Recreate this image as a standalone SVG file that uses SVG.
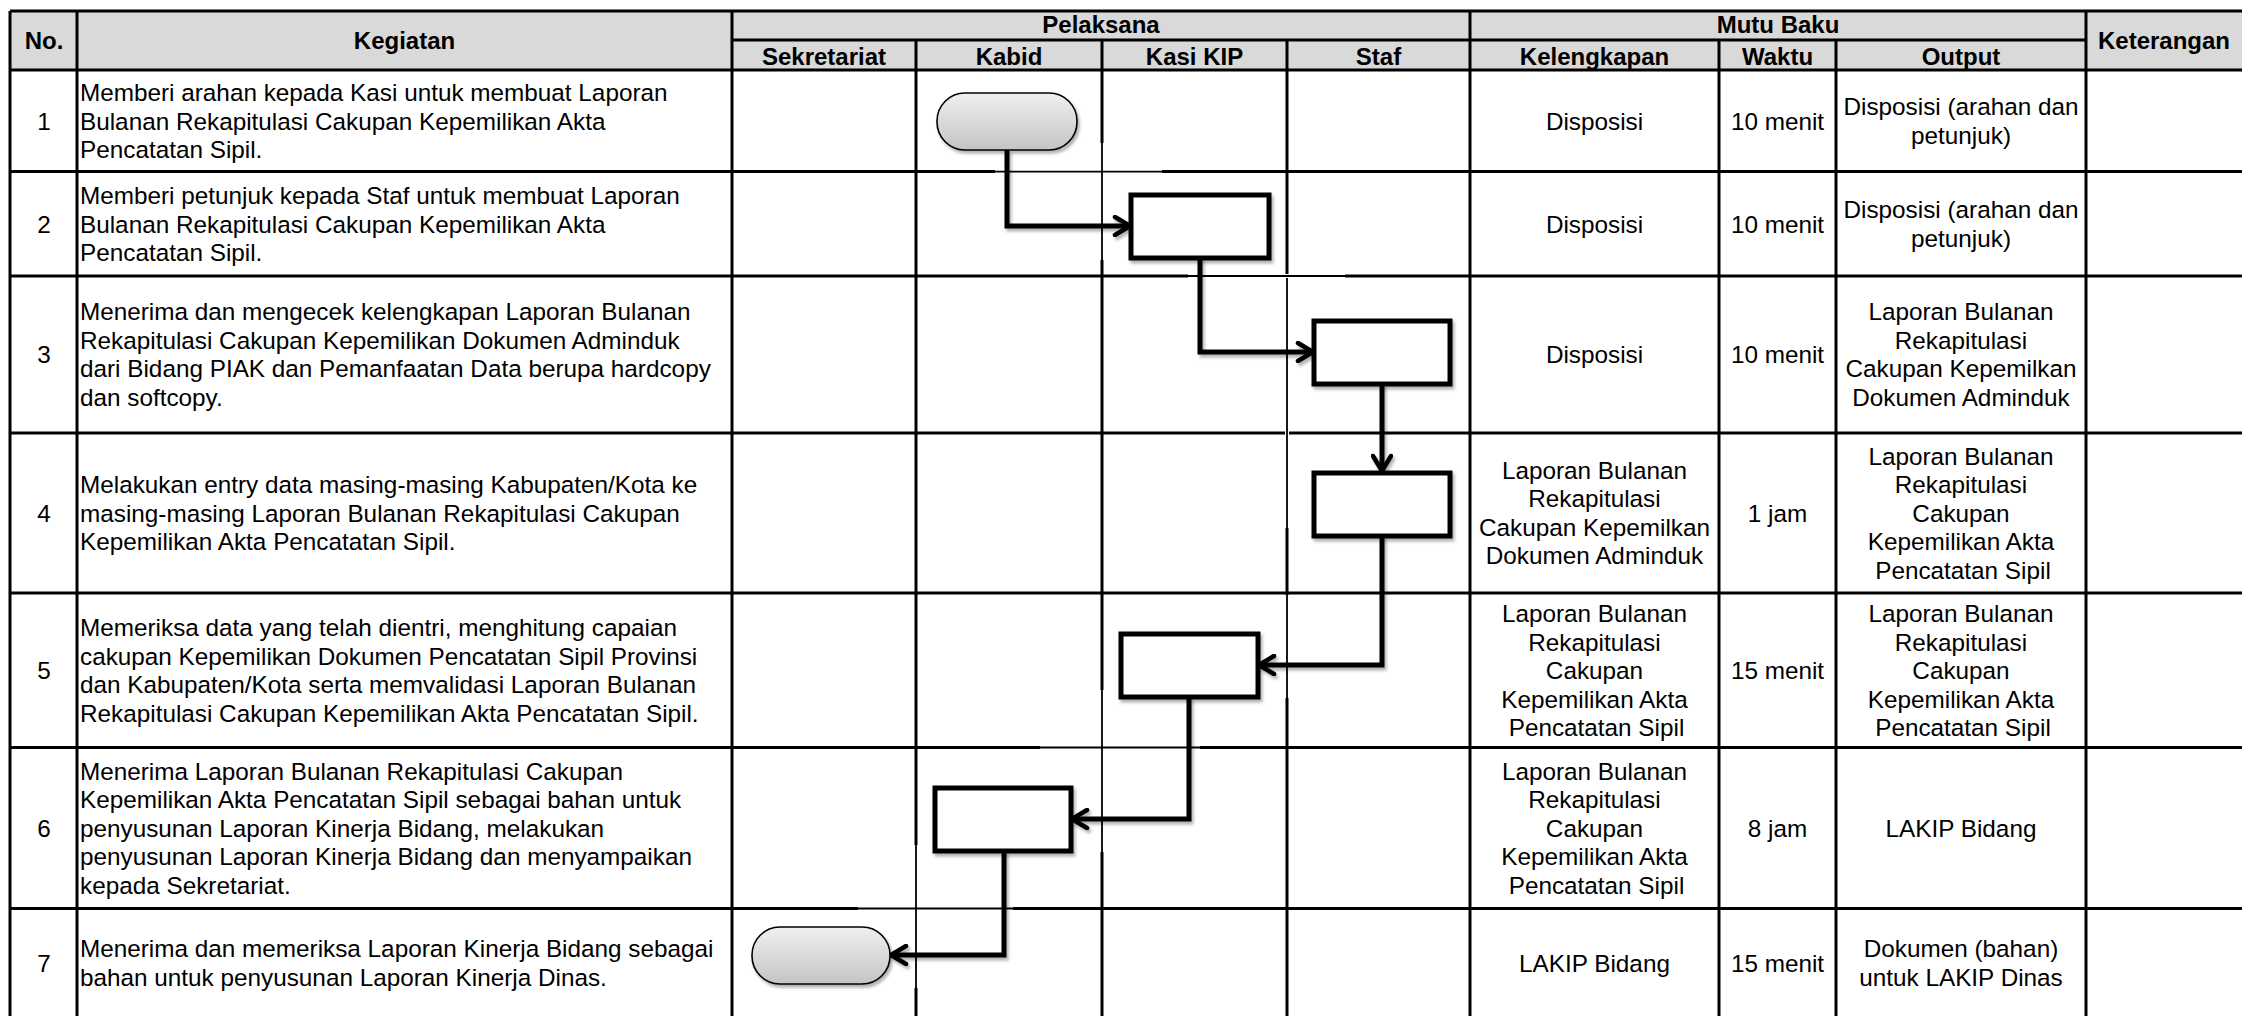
<svg xmlns="http://www.w3.org/2000/svg" width="2242" height="1016" viewBox="0 0 2242 1016">
<style>
.grid{stroke:#000;stroke-width:3;fill:none}
.erase{stroke:#fff;stroke-width:4;fill:none}
.thin{stroke:#000;stroke-width:1.8;fill:none}
.hd{font-family:"Liberation Sans",Arial,sans-serif;font-weight:bold;font-size:24px;fill:#000;text-anchor:middle}
.tx{font-family:"Liberation Sans",Arial,sans-serif;font-size:24.3px;fill:#000}
.c{text-anchor:middle}
.box{fill:#fff;stroke:#000;stroke-width:5}
.term{fill:url(#tg);stroke:#000;stroke-width:1.6}
.conn{fill:none;stroke:#000;stroke-width:5;stroke-linejoin:miter}
</style>
<defs>
<linearGradient id="tg" x1="0" y1="0" x2="0" y2="1">
<stop offset="0" stop-color="#f0f0f0"/>
<stop offset="1" stop-color="#c4c4c4"/>
</linearGradient>
<filter id="sh" x="-20%" y="-20%" width="140%" height="140%">
<feDropShadow dx="2" dy="3" stdDeviation="1.5" flood-color="#000" flood-opacity="0.3"/>
</filter>
<marker id="arr" markerUnits="userSpaceOnUse" viewBox="0 0 20 22" refX="18" refY="11" markerWidth="20" markerHeight="22" orient="auto">
<path d="M3,2 L18,11 L3,20" fill="none" stroke="#000" stroke-width="4.5" stroke-linecap="round" stroke-linejoin="miter"/>
</marker>
</defs>
<rect x="0" y="0" width="2242" height="1016" fill="#fff"/>
<g id="table">
<rect x="10" y="11" width="2232" height="59" fill="#d9d9d9"/>
<path class="grid" d="M10,11H2242 M732,40H2086 M10,70H2242 M10,171.6H2242 M10,276H2242 M10,433H2242 M10,593H2242 M10,747.5H2242 M10,908.5H2242"/>
<path class="grid" d="M10,11V1016 M77,11V1016 M732,11V1016 M1470,11V1016 M2086,11V1016 M916,40V1016 M1102,40V1016 M1287,40V1016 M1719,40V1016 M1836,40V1016"/>
<path class="erase" d="M1102,143V260 M995,171.6H1162 M1287,278V528 M1188,276H1345 M1287,595V698 M1102,690V852 M1040,747.5H1200 M916,845V988 M858,908.5H1013"/>
<path class="thin" d="M1102,143V260 M995,171.6H1162 M1287,278V528 M1188,276H1345 M1287,595V698 M1102,690V852 M1040,747.5H1200 M916,845V988 M858,908.5H1013"/>
<text class="hd" x="44" y="49">No.</text>
<text class="hd" x="404.5" y="49">Kegiatan</text>
<text class="hd" x="1101" y="33">Pelaksana</text>
<text class="hd" x="1778" y="33">Mutu Baku</text>
<text class="hd" x="2164" y="49">Keterangan</text>
<text class="hd" x="824" y="64.5">Sekretariat</text>
<text class="hd" x="1009" y="64.5">Kabid</text>
<text class="hd" x="1194.5" y="64.5">Kasi KIP</text>
<text class="hd" x="1378.5" y="64.5">Staf</text>
<text class="hd" x="1594.5" y="64.5">Kelengkapan</text>
<text class="hd" x="1777.5" y="64.5">Waktu</text>
<text class="hd" x="1961" y="64.5">Output</text>
</g>
<g id="row1">
<text class="tx c" x="44" y="129.5">1</text>
<text class="tx" x="80" y="101"><tspan x="80">Memberi arahan kepada Kasi untuk membuat Laporan</tspan><tspan x="80" dy="28.5">Bulanan Rekapitulasi Cakupan Kepemilikan Akta</tspan><tspan x="80" dy="28.5">Pencatatan Sipil.</tspan></text>
<text class="tx c" x="1594.5" y="129.5">Disposisi</text>
<text class="tx c" x="1777.5" y="129.5">10 menit</text>
<text class="tx c" y="115.25"><tspan x="1961">Disposisi (arahan dan</tspan><tspan x="1961" dy="28.5">petunjuk)</tspan></text>
</g>
<g id="row2">
<text class="tx c" x="44" y="232.5">2</text>
<text class="tx" x="80" y="204"><tspan x="80">Memberi petunjuk kepada Staf untuk membuat Laporan</tspan><tspan x="80" dy="28.5">Bulanan Rekapitulasi Cakupan Kepemilikan Akta</tspan><tspan x="80" dy="28.5">Pencatatan Sipil.</tspan></text>
<text class="tx c" x="1594.5" y="232.5">Disposisi</text>
<text class="tx c" x="1777.5" y="232.5">10 menit</text>
<text class="tx c" y="218.25"><tspan x="1961">Disposisi (arahan dan</tspan><tspan x="1961" dy="28.5">petunjuk)</tspan></text>
</g>
<g id="row3">
<text class="tx c" x="44" y="363">3</text>
<text class="tx" x="80" y="320.25"><tspan x="80">Menerima dan mengecek kelengkapan Laporan Bulanan</tspan><tspan x="80" dy="28.5">Rekapitulasi Cakupan Kepemilikan Dokumen Adminduk</tspan><tspan x="80" dy="28.5">dari Bidang PIAK dan Pemanfaatan Data berupa hardcopy</tspan><tspan x="80" dy="28.5">dan softcopy.</tspan></text>
<text class="tx c" x="1594.5" y="363">Disposisi</text>
<text class="tx c" x="1777.5" y="363">10 menit</text>
<text class="tx c" y="320.25"><tspan x="1961">Laporan Bulanan</tspan><tspan x="1961" dy="28.5">Rekapitulasi</tspan><tspan x="1961" dy="28.5">Cakupan Kepemilkan</tspan><tspan x="1961" dy="28.5">Dokumen Adminduk</tspan></text>
</g>
<g id="row4">
<text class="tx c" x="44" y="521.5">4</text>
<text class="tx" x="80" y="493"><tspan x="80">Melakukan entry data masing-masing Kabupaten/Kota ke</tspan><tspan x="80" dy="28.5">masing-masing Laporan Bulanan Rekapitulasi Cakupan</tspan><tspan x="80" dy="28.5">Kepemilikan Akta Pencatatan Sipil.</tspan></text>
<text class="tx c" y="478.75"><tspan x="1594.5">Laporan Bulanan</tspan><tspan x="1594.5" dy="28.5">Rekapitulasi</tspan><tspan x="1594.5" dy="28.5">Cakupan Kepemilkan</tspan><tspan x="1594.5" dy="28.5">Dokumen Adminduk</tspan></text>
<text class="tx c" x="1777.5" y="521.5">1 jam</text>
<text class="tx c" y="464.5"><tspan x="1961">Laporan Bulanan</tspan><tspan x="1961" dy="28.5">Rekapitulasi</tspan><tspan x="1961" dy="28.5">Cakupan</tspan><tspan x="1961" dy="28.5">Kepemilikan Akta</tspan><tspan x="1963" dy="28.5">Pencatatan Sipil</tspan></text>
</g>
<g id="row5">
<text class="tx c" x="44" y="679">5</text>
<text class="tx" x="80" y="636.25"><tspan x="80">Memeriksa data yang telah dientri, menghitung capaian</tspan><tspan x="80" dy="28.5">cakupan Kepemilikan Dokumen Pencatatan Sipil Provinsi</tspan><tspan x="80" dy="28.5">dan Kabupaten/Kota serta memvalidasi Laporan Bulanan</tspan><tspan x="80" dy="28.5">Rekapitulasi Cakupan Kepemilikan Akta Pencatatan Sipil.</tspan></text>
<text class="tx c" y="622"><tspan x="1594.5">Laporan Bulanan</tspan><tspan x="1594.5" dy="28.5">Rekapitulasi</tspan><tspan x="1594.5" dy="28.5">Cakupan</tspan><tspan x="1594.5" dy="28.5">Kepemilikan Akta</tspan><tspan x="1596.5" dy="28.5">Pencatatan Sipil</tspan></text>
<text class="tx c" x="1777.5" y="679">15 menit</text>
<text class="tx c" y="622"><tspan x="1961">Laporan Bulanan</tspan><tspan x="1961" dy="28.5">Rekapitulasi</tspan><tspan x="1961" dy="28.5">Cakupan</tspan><tspan x="1961" dy="28.5">Kepemilikan Akta</tspan><tspan x="1963" dy="28.5">Pencatatan Sipil</tspan></text>
</g>
<g id="row6">
<text class="tx c" x="44" y="836.5">6</text>
<text class="tx" x="80" y="779.5"><tspan x="80">Menerima Laporan Bulanan Rekapitulasi Cakupan</tspan><tspan x="80" dy="28.5">Kepemilikan Akta Pencatatan Sipil sebagai bahan untuk</tspan><tspan x="80" dy="28.5">penyusunan Laporan Kinerja Bidang, melakukan</tspan><tspan x="80" dy="28.5">penyusunan Laporan Kinerja Bidang dan menyampaikan</tspan><tspan x="80" dy="28.5">kepada Sekretariat.</tspan></text>
<text class="tx c" y="779.5"><tspan x="1594.5">Laporan Bulanan</tspan><tspan x="1594.5" dy="28.5">Rekapitulasi</tspan><tspan x="1594.5" dy="28.5">Cakupan</tspan><tspan x="1594.5" dy="28.5">Kepemilikan Akta</tspan><tspan x="1596.5" dy="28.5">Pencatatan Sipil</tspan></text>
<text class="tx c" x="1777.5" y="836.5">8 jam</text>
<text class="tx c" x="1961" y="836.5">LAKIP Bidang</text>
</g>
<g id="row7">
<text class="tx c" x="44" y="971.5">7</text>
<text class="tx" x="80" y="957.25"><tspan x="80">Menerima dan memeriksa Laporan Kinerja Bidang sebagai</tspan><tspan x="80" dy="28.5">bahan untuk penyusunan Laporan Kinerja Dinas.</tspan></text>
<text class="tx c" x="1594.5" y="971.5">LAKIP Bidang</text>
<text class="tx c" x="1777.5" y="971.5">15 menit</text>
<text class="tx c" y="957.25"><tspan x="1961">Dokumen (bahan)</tspan><tspan x="1961" dy="28.5">untuk LAKIP Dinas</tspan></text>
</g>
<g id="connectors" filter="url(#sh)">
<path class="conn" d="M1007,150 V226 H1130" marker-end="url(#arr)"/>
<path class="conn" d="M1200,258 V352 H1313" marker-end="url(#arr)"/>
<path class="conn" d="M1382,384 V471" marker-end="url(#arr)"/>
<path class="conn" d="M1382,536 V665 H1259" marker-end="url(#arr)"/>
<path class="conn" d="M1189,697 V819 H1072" marker-end="url(#arr)"/>
<path class="conn" d="M1004,851 V955 H891" marker-end="url(#arr)"/>
</g>
<g id="node-start" filter="url(#sh)"><rect class="term" x="937" y="93" width="140" height="57" rx="28" ry="28"/></g>
<g id="node-2" filter="url(#sh)"><rect class="box" x="1131" y="195" width="138" height="63"/></g>
<g id="node-3" filter="url(#sh)"><rect class="box" x="1314" y="321" width="136" height="63"/></g>
<g id="node-4" filter="url(#sh)"><rect class="box" x="1314" y="473" width="136" height="63"/></g>
<g id="node-5" filter="url(#sh)"><rect class="box" x="1121" y="634" width="137" height="63"/></g>
<g id="node-6" filter="url(#sh)"><rect class="box" x="935" y="788" width="136" height="63"/></g>
<g id="node-end" filter="url(#sh)"><rect class="term" x="752" y="927" width="138" height="57" rx="28" ry="28"/></g>
</svg>
